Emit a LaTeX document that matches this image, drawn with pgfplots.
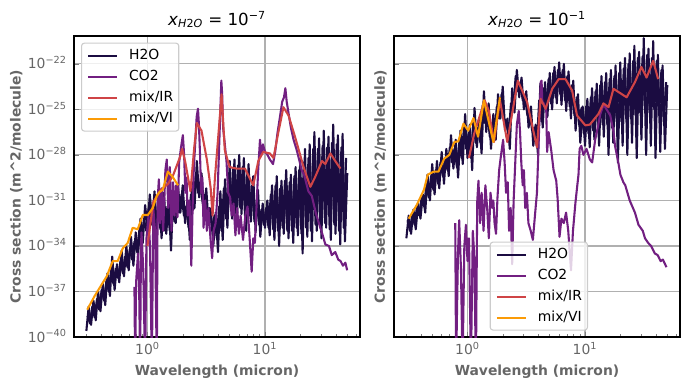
\documentclass[border=0pt]{standalone}
\usepackage{fontspec}
\setmainfont{DejaVu Sans}
\usepackage{pgfplots}
\pgfplotsset{compat=1.18}
\definecolor{cH}{HTML}{1B0C41}
\definecolor{cC}{HTML}{721F81}
\definecolor{cIR}{HTML}{CF4446}
\definecolor{cVI}{HTML}{FB9B06}
\definecolor{tgray}{HTML}{666666}
\definecolor{gridgray}{HTML}{B0B0B0}
\definecolor{leggray}{HTML}{CCCCCC}
\newcommand{\legtxt}[1]{\hspace{7.9pt}#1}
\begin{document}
\begin{tikzpicture}
% ---------------- left panel ----------------
\begin{axis}[
    scale only axis, width=205.92pt, height=216.72pt,
    at={(0pt,0pt)}, anchor=south west,
    xmode=log, ymode=log,
    xmin=0.237, xmax=64.3, ymin=1e-40, ymax=6.9e-21,
    xtick={1,10}, xticklabels={10\textsuperscript{0},10\textsuperscript{1}},
    minor xtick={0.3,0.4,0.5,0.6,0.7,0.8,0.9,2,3,4,5,6,7,8,9,20,30,40,50,60},
    ytick={1e-40,1e-37,1e-34,1e-31,1e-28,1e-25,1e-22},
    yticklabels={10\textsuperscript{−40},10\textsuperscript{−37},10\textsuperscript{−34},10\textsuperscript{−31},10\textsuperscript{−28},10\textsuperscript{−25},10\textsuperscript{−22}},
    tick align=inside, xtick pos=left, ytick pos=left,
    major tick length=3.5pt, minor tick length=2pt,
    grid=major, major grid style={color=gridgray, line width=0.8pt},
    axis line style={line width=0.8pt},
    tick label style={font=\fontsize{10}{12}\selectfont, text=tgray},
    yticklabel style={anchor=base east, inner sep=0pt, xshift=-5pt, yshift=-3.6pt},
    xticklabel style={anchor=north, inner sep=0pt, yshift=-3.5pt},
    label style={font=\bfseries\fontsize{10}{12}\selectfont, text=tgray},
    xlabel={Wavelength (micron)},
    ylabel={Cross section (m\textasciicircum 2/molecule)},
    xlabel style={at={(axis description cs:0.5,0)}, anchor=base, yshift=-27.7pt},
    ylabel style={at={(axis description cs:0,0.5)}, anchor=base, yshift=38.4pt},
    title style={at={(axis description cs:0.5,1)}, anchor=south, inner sep=0pt, yshift=-0.5pt, font=\fontsize{12}{14}\selectfont},
    title={\textit{x}\textsubscript{\textit{H}2\textit{O}} = 10\textsuperscript{−7}},
    legend cell align=left,
    legend image code/.code={\draw[#1,line width=1.5pt] (0pt,0pt) -- (20.9pt,0pt);},
    legend style={at={(0.0245,0.978)}, anchor=north west, draw=leggray, line width=0.8pt, rounded corners=2pt, fill=white,
      fill opacity=0.8, text opacity=1, font=\fontsize{10}{12}\selectfont,
      inner xsep=4pt, inner ysep=4pt, row sep=5.1pt,
      nodes={inner sep=0pt, text height=7.6pt, text depth=2.4pt}},
  ]
\addplot[cH, line width=1.5pt, line join=round] coordinates {
(0.302,2.5e-40) (0.316,1e-38) (0.331,6.3e-40) (0.347,2.5e-38) (0.363,1.26e-39) (0.380,1e-37) (0.398,5e-39) (0.417,3.2e-37) (0.437,1.26e-38) (0.457,1.58e-36) (0.479,5e-38) (0.501,2e-35) (0.525,1.26e-37) (0.550,6.3e-36) (0.575,4e-37) (0.603,5e-35) (0.631,1e-36) (0.661,1e-34) (0.692,2.5e-36) (0.724,4e-34) (0.759,5e-36) (0.794,7.9e-34) (0.832,2.5e-35) (0.871,6.3e-33) (0.912,1.58e-34) (0.955,5e-32) (1.0,1.58e-33) (1.047,2.5e-31) (1.096,4e-33) (1.148,4e-31) (1.202,1.26e-33) (1.259,2e-31) (1.318,3.2e-34) (1.380,3.2e-31) (1.445,6.3e-34) (1.514,1.26e-31) (1.585,5e-35) (1.660,3.2e-31) (1.738,3.2e-33) (1.820,7.9e-31) (1.905,1.58e-32) (1.995,1e-30) (2.089,3.2e-33) (2.188,1e-31) (2.291,2.5e-34) (2.399,1.58e-30) (2.512,3.2e-32) (2.630,4e-29) (2.754,1.58e-31) (2.884,6.3e-30) (3.020,3.2e-32) (3.162,6.3e-31) (3.311,2.5e-33) (3.467,2.5e-32) (3.631,1e-34) (3.802,1.58e-32) (3.981,4e-35) (4.169,4e-31) (4.365,2.5e-34) (4.571,2.5e-30) (4.786,1.58e-33) (5.012,4e-29) (5.248,6.3e-33) (5.495,5e-29) (5.754,2.5e-33) (6.026,1e-28) (6.310,1.26e-32) (6.607,6.3e-29) (6.918,1e-33) (7.244,2.5e-29) (7.586,4e-33) (7.943,4e-30) (8.318,7.9e-34) (8.710,5e-31) (9.120,4e-34) (9.550,6.3e-32) (10.0,1.58e-33) (10.47,1e-31) (10.96,5e-34) (11.48,1e-30) (12.02,2.5e-34) (12.59,4e-30) (13.18,1e-34) (13.80,2e-30) (14.45,6.3e-34) (15.14,1e-29) (15.85,3.2e-34) (16.60,5e-30) (17.38,1.58e-34) (18.20,1.58e-29) (19.05,5e-34) (19.95,5e-29) (20.89,3.2e-35) (21.88,2.5e-28) (22.91,4e-34) (23.99,5e-28) (25.12,2e-34) (26.30,3.2e-27) (27.54,1e-33) (28.84,1.26e-27) (30.20,3.2e-34) (31.62,4e-27) (33.11,1.58e-33) (34.67,1.58e-27) (36.31,2.5e-34) (38.02,1e-26) (39.81,6.3e-34) (41.69,2e-27) (43.65,1.26e-34) (45.71,2.5e-27) (47.86,2e-34) (50.12,6.3e-30)
};
\addlegendentry{\legtxt{H2O}}
\addplot[cH, line width=1.5pt, line join=round, forget plot] coordinates {
(0.309,2.5e-39) (0.324,7.9e-40) (0.339,1e-38) (0.355,2e-39) (0.372,3.2e-38) (0.389,6.3e-39) (0.407,1.26e-37) (0.427,2.5e-38) (0.447,5e-37) (0.468,1e-37) (0.490,2.5e-36) (0.513,3.2e-37) (0.537,3.2e-36) (0.562,7.9e-37) (0.589,1e-35) (0.617,1.58e-36) (0.646,2e-35) (0.676,4e-36) (0.708,6.3e-35) (0.741,1.26e-35) (0.776,2e-34) (0.813,4e-35) (0.851,1e-33) (0.891,2.5e-34) (0.933,6.3e-33) (0.977,1e-33) (1.023,3.2e-32) (1.072,2.5e-33) (1.122,6.3e-32) (1.175,1.58e-33) (1.230,5e-32) (1.288,1.26e-33) (1.349,6.3e-32) (1.413,1e-33) (1.479,4e-32) (1.549,1e-33) (1.622,6.3e-32) (1.698,4e-33) (1.778,1.58e-31) (1.862,1.58e-32) (1.950,2.5e-31) (2.042,1e-32) (2.138,4e-32) (2.239,1.58e-33) (2.344,2.5e-31) (2.455,2.5e-32) (2.570,4e-30) (2.692,3.2e-31) (2.818,1.58e-30) (2.951,6.3e-32) (3.090,2.5e-31) (3.236,1e-32) (3.388,3.2e-32) (3.548,1e-33) (3.715,1e-32) (3.890,3.2e-34) (4.074,4e-32) (4.266,1e-33) (4.467,6.3e-31) (4.677,6.3e-33) (4.898,6.3e-30) (5.129,2.5e-32) (5.370,1.26e-29) (5.623,1.58e-32) (5.888,2e-29) (6.166,3.2e-32) (6.457,1.58e-29) (6.761,1e-32) (7.079,6.3e-30) (7.413,1e-32) (7.762,1e-30) (8.128,4e-33) (8.511,1e-31) (8.913,2.5e-33) (9.333,2.5e-32) (9.772,2.5e-33) (10.23,3.2e-32) (10.72,1.58e-33) (11.22,2.5e-31) (11.75,1.26e-33) (12.30,1e-30) (12.88,1e-33) (13.49,6.3e-31) (14.13,1.58e-33) (14.79,2e-30) (15.49,1e-33) (16.22,1.58e-30) (16.98,1e-33) (17.78,4e-30) (18.62,1.58e-33) (19.50,1e-29) (20.42,6.3e-34) (21.38,3.2e-29) (22.39,1.58e-33) (23.44,6.3e-29) (24.55,1e-33) (25.70,2.5e-28) (26.92,2.5e-33) (28.18,2.5e-28) (29.51,1.58e-33) (30.90,4e-28) (32.36,3.2e-33) (33.88,3.2e-28) (35.48,1.26e-33) (37.15,6.3e-28) (38.90,2.5e-33) (40.74,5e-28) (42.66,1e-33) (44.67,3.2e-28) (46.77,1.58e-33) (48.98,6.3e-29)
};
\addplot[cC, line width=1.5pt, line join=round] coordinates {
(0.775,2e-37) (0.785,1e-42) (0.80,4e-37) (0.83,3.2e-35) (0.85,1e-37) (0.866,1e-42) (0.88,1e-34) (0.89,7.9e-34) (0.92,3.2e-36) (0.955,1e-42) (0.98,3.2e-34) (1.02,1e-32) (1.05,1e-34) (1.09,1e-42) (1.12,3.2e-32) (1.16,1e-33) (1.2,1e-42) (1.22,1e-31) (1.25,2.5e-30) (1.28,3.2e-33) (1.32,6.3e-31) (1.36,1e-33) (1.42,1e-29) (1.46,5e-29) (1.5,3.2e-32) (1.55,1.58e-29) (1.6,1e-33) (1.65,1.58e-30) (1.7,1e-32) (1.75,1e-30) (1.8,7.9e-33) (1.86,3.2e-29) (1.93,3.2e-28) (2.0,2e-27) (2.05,1e-28) (2.1,3.2e-31) (2.15,3.2e-30) (2.2,1e-32) (2.28,1e-31) (2.36,5e-36) (2.42,3.2e-32) (2.48,1.58e-29) (2.55,6.3e-28) (2.62,3.2e-26) (2.69,1.12e-25) (2.74,1e-26) (2.8,1e-28) (2.86,3.2e-31) (2.93,3.2e-30) (3.0,1.58e-33) (3.1,1e-31) (3.2,1e-33) (3.3,3.2e-32) (3.45,2e-34) (3.55,1.58e-35) (3.65,1e-33) (3.8,3.2e-33) (3.95,3.2e-31) (4.05,1e-28) (4.15,3.2e-26) (4.25,7.9e-24) (4.32,1e-24) (4.4,6.3e-27) (4.55,5e-28) (4.7,4e-29) (4.86,3.2e-31) (5.05,1.58e-31) (5.2,1e-32) (5.4,6.3e-32) (5.6,5e-34) (5.8,3.2e-32) (6.0,6.3e-34) (6.2,1e-32) (6.5,2.5e-34) (6.8,1e-32) (7.1,4e-32) (7.4,3.2e-34) (7.7,2e-36) (7.95,3.2e-34) (8.2,1.58e-34) (8.5,7.9e-32) (8.75,1e-29) (9.06,1e-27) (9.3,1e-28) (9.6,5e-28) (10.0,1.58e-28) (10.5,1e-28) (11.0,5e-29) (11.7,2.5e-29) (12.2,1.58e-28) (12.8,3.2e-27) (13.4,3.2e-26) (14.0,3.2e-25) (14.5,6.3e-25) (14.9,2.5e-24) (15.3,3.2e-25) (15.9,5e-26) (16.6,6.3e-27) (17.5,1e-27) (18.5,2.5e-28) (19.5,5e-29) (20.5,1e-29) (21.5,5e-30) (23.4,4e-31) (25.0,2e-31) (27.0,1.58e-32) (29.0,2.5e-33) (31.0,5e-34) (32.6,1.26e-34) (35.0,1e-34) (37.0,2.5e-35) (39.6,4e-35) (42.0,1.26e-35) (44.0,1e-35) (46.0,5e-36) (48.3,7.9e-36) (50.0,2.5e-36)
};
\addlegendentry{\legtxt{CO2}}
\addplot[cIR, line width=1.5pt, line join=round] coordinates {
(1.0,1e-34) (1.12,7.9e-32) (1.3,5e-31) (1.5,1.26e-30) (1.66,5e-30) (1.9,7.9e-29) (1.97,2.5e-28) (2.1,3.2e-29) (2.32,4e-31) (2.5,3.2e-28) (2.63,1.26e-26) (2.88,4e-27) (3.2,5e-29) (3.45,6.3e-31) (3.58,1e-32) (3.75,3.2e-30) (4.0,1.58e-27) (4.27,1e-24) (4.55,2e-28) (5.0,1.58e-29) (5.73,1.26e-29) (6.75,1.26e-29) (7.94,1e-30) (8.77,4e-29) (9.66,1.58e-28) (11.0,1.26e-28) (11.8,6.3e-29) (13.0,3.2e-27) (14.35,1.4e-25) (15.85,4e-26) (18.0,1.58e-27) (21.3,1.58e-29) (24.3,7.9e-31) (26.7,3.5e-30) (30.5,4e-29) (32.6,2.5e-29) (36.0,1.26e-28) (39.6,4e-29) (43.8,1.26e-29)
};
\addlegendentry{\legtxt{mix/IR}}
\addplot[cVI, line width=1.5pt, line join=round] coordinates {
(0.307,6.3e-39) (0.355,5e-38) (0.45,1e-36) (0.506,1e-35) (0.557,1e-35) (0.617,7.1e-35) (0.679,1.58e-34) (0.748,1.58e-33) (0.826,1.26e-33) (0.912,1.1e-32) (1.007,1.1e-32) (1.11,3.2e-32) (1.2,2e-31) (1.26,3.5e-31) (1.35,5e-31) (1.49,7.9e-30) (1.64,3.5e-30) (1.82,1e-30)
};
\addlegendentry{\legtxt{mix/VI}}
\end{axis}
% ---------------- right panel ----------------
\begin{axis}[
    scale only axis, width=205.92pt, height=216.72pt,
    at={(230.4pt,0pt)}, anchor=south west,
    xmode=log, ymode=log,
    xmin=0.237, xmax=64.3, ymin=1e-40, ymax=6.9e-21,
    xtick={1,10}, xticklabels={10\textsuperscript{0},10\textsuperscript{1}},
    minor xtick={0.3,0.4,0.5,0.6,0.7,0.8,0.9,2,3,4,5,6,7,8,9,20,30,40,50,60},
    ytick={1e-40,1e-37,1e-34,1e-31,1e-28,1e-25,1e-22},
    yticklabels={},
    tick align=inside, xtick pos=left, ytick pos=left,
    major tick length=3.5pt, minor tick length=2pt,
    grid=major, major grid style={color=gridgray, line width=0.8pt},
    axis line style={line width=0.8pt},
    tick label style={font=\fontsize{10}{12}\selectfont, text=tgray},
    xticklabel style={anchor=north, inner sep=0pt, yshift=-3.5pt},
    label style={font=\bfseries\fontsize{10}{12}\selectfont, text=tgray},
    xlabel={Wavelength (micron)},
    ylabel={Cross section (m\textasciicircum 2/molecule)},
    xlabel style={at={(axis description cs:0.5,0)}, anchor=base, yshift=-27.7pt},
    ylabel style={at={(axis description cs:0,0.5)}, anchor=base, yshift=6.5pt},
    title style={at={(axis description cs:0.5,1)}, anchor=south, inner sep=0pt, yshift=-0.5pt, font=\fontsize{12}{14}\selectfont},
    title={\textit{x}\textsubscript{\textit{H}2\textit{O}} = 10\textsuperscript{−1}},
    legend cell align=left,
    legend image code/.code={\draw[#1,line width=1.5pt] (0pt,0pt) -- (20.9pt,0pt);},
    legend style={at={(0.3345,0.317)}, anchor=north west, draw=leggray, line width=0.8pt, rounded corners=2pt, fill=white,
      fill opacity=0.8, text opacity=1, font=\fontsize{10}{12}\selectfont,
      inner xsep=4pt, inner ysep=4pt, row sep=5.1pt,
      nodes={inner sep=0pt, text height=7.6pt, text depth=2.4pt}},
  ]
\addplot[cH, line width=1.5pt, line join=round] coordinates {
(0.302,3.2e-34) (0.316,1e-32) (0.331,6.3e-34) (0.347,2.5e-32) (0.363,1.26e-33) (0.380,6.3e-32) (0.398,6.3e-33) (0.417,2.5e-31) (0.437,1.58e-32) (0.457,5e-30) (0.479,1e-31) (0.501,2.5e-29) (0.525,2.5e-31) (0.550,4e-29) (0.575,6.3e-31) (0.603,1.58e-28) (0.631,1.26e-30) (0.661,2.5e-28) (0.692,4e-30) (0.724,2e-27) (0.759,1.26e-29) (0.794,1e-27) (0.832,3.2e-30) (0.871,4e-27) (0.912,2.5e-29) (0.955,5e-26) (1.0,6.3e-29) (1.047,1e-26) (1.096,1e-29) (1.148,1.26e-25) (1.202,3.2e-28) (1.259,2.5e-26) (1.318,1.26e-28) (1.380,1.58e-24) (1.445,3.2e-27) (1.514,2.5e-25) (1.585,2.5e-28) (1.660,5e-26) (1.738,1e-27) (1.820,1e-24) (1.905,2.5e-26) (1.995,3.2e-24) (2.089,4e-27) (2.188,2.5e-26) (2.291,2.5e-28) (2.399,2.5e-24) (2.512,6.3e-26) (2.630,4e-23) (2.754,6.3e-25) (2.884,1.26e-23) (3.020,1e-25) (3.162,1.58e-24) (3.311,6.3e-27) (3.467,1.58e-25) (3.631,4e-28) (3.802,1e-26) (3.981,1e-28) (4.169,5e-24) (4.365,6.3e-27) (4.571,6.3e-24) (4.786,3.2e-26) (5.012,2.5e-23) (5.248,1e-25) (5.495,6.3e-23) (5.754,2.5e-25) (6.026,1.26e-22) (6.310,2e-25) (6.607,1e-22) (6.918,7.9e-26) (7.244,3.2e-23) (7.586,2.5e-26) (7.943,7.9e-24) (8.318,4e-27) (8.710,1e-24) (9.120,6.3e-28) (9.550,1.58e-25) (10.0,4e-28) (10.47,5e-25) (10.96,3.2e-28) (11.48,2.5e-24) (12.02,1e-27) (12.59,5e-24) (13.18,4e-28) (13.80,1.58e-23) (14.45,1.58e-27) (15.14,2.5e-23) (15.85,1e-28) (16.60,4e-23) (17.38,6.3e-28) (18.20,7.9e-23) (19.05,3.2e-29) (19.95,1.26e-22) (20.89,4e-28) (21.88,2.5e-22) (22.91,1e-28) (23.99,5e-22) (25.12,6.3e-28) (26.30,1.58e-21) (27.54,6.3e-29) (28.84,6.3e-22) (30.20,1e-27) (31.62,5e-21) (33.11,1e-28) (34.67,1e-21) (36.31,4e-28) (38.02,3.2e-21) (39.81,6.3e-29) (41.69,4e-22) (43.65,1.58e-28) (45.71,7.9e-23) (47.86,2.5e-28) (50.12,4e-24)
};
\addlegendentry{\legtxt{H2O}}
\addplot[cH, line width=1.5pt, line join=round, forget plot] coordinates {
(0.309,5e-33) (0.324,1e-33) (0.339,1.26e-32) (0.355,2.5e-33) (0.372,4e-32) (0.389,1e-32) (0.407,1.58e-31) (0.427,4e-32) (0.447,1e-30) (0.468,1.58e-31) (0.490,4e-30) (0.513,5e-31) (0.537,1e-29) (0.562,1.26e-30) (0.589,3.2e-29) (0.617,4e-30) (0.646,6.3e-29) (0.676,1e-29) (0.708,3.2e-28) (0.741,3.2e-29) (0.776,2.5e-28) (0.813,1.58e-29) (0.851,6.3e-28) (0.891,6.3e-29) (0.933,6.3e-27) (0.977,2.5e-28) (1.023,2.5e-27) (1.072,6.3e-29) (1.122,1.58e-26) (1.175,6.3e-28) (1.230,6.3e-27) (1.288,6.3e-28) (1.349,2e-25) (1.413,1.26e-26) (1.479,6.3e-26) (1.549,1.58e-27) (1.622,1e-26) (1.698,1.58e-27) (1.778,1.58e-25) (1.862,2.5e-26) (1.950,1e-24) (2.042,2.5e-26) (2.138,1.58e-26) (2.239,1.58e-27) (2.344,2.5e-25) (2.455,1e-25) (2.570,1.58e-23) (2.692,1.58e-24) (2.818,6.3e-24) (2.951,4e-25) (3.090,6.3e-25) (3.236,4e-26) (3.388,6.3e-26) (3.548,4e-27) (3.715,6.3e-27) (3.890,4e-28) (4.074,4e-25) (4.266,1.58e-26) (4.467,2.5e-24) (4.677,1e-25) (4.898,1e-23) (5.129,2.5e-25) (5.370,2.5e-23) (5.623,6.3e-25) (5.888,4e-23) (6.166,1e-24) (6.457,4e-23) (6.761,4e-25) (7.079,1.58e-23) (7.413,1.58e-25) (7.762,4e-24) (8.128,4e-26) (8.511,6.3e-25) (8.913,1e-26) (9.333,1.26e-25) (9.772,2.5e-27) (10.23,1.58e-25) (10.72,2.5e-27) (11.22,6.3e-25) (11.75,4e-27) (12.30,1.58e-24) (12.88,6.3e-27) (13.49,4e-24) (14.13,1e-26) (14.79,6.3e-24) (15.49,1e-26) (16.22,1e-23) (16.98,6.3e-27) (17.78,1.58e-23) (18.62,1.58e-26) (19.50,2.5e-23) (20.42,1.58e-26) (21.38,5e-23) (22.39,2.5e-26) (23.44,1e-22) (24.55,2.5e-26) (25.70,1.58e-22) (26.92,4e-26) (28.18,2.5e-22) (29.51,6.3e-26) (30.90,3.2e-22) (32.36,1e-25) (33.88,4e-22) (35.48,6.3e-26) (37.15,2.5e-22) (38.90,1e-25) (40.74,1.58e-22) (42.66,4e-26) (44.67,4e-23) (46.77,1.58e-26) (48.98,6.3e-24)
};
\addplot[cC, line width=1.5pt, line join=round] coordinates {
(0.787,3.2e-33) (0.80,1e-42) (0.83,3.2e-35) (0.85,5e-33) (0.88,3.2e-36) (0.908,1e-42) (0.94,1e-34) (0.97,2.5e-33) (1.0,1e-35) (1.03,3.2e-34) (1.07,1e-42) (1.11,1e-33) (1.14,3.2e-35) (1.18,1e-42) (1.21,7.9e-32) (1.24,2e-30) (1.28,3.2e-33) (1.32,3.2e-31) (1.37,1e-33) (1.42,1e-30) (1.47,3.2e-32) (1.52,3.2e-34) (1.57,3.2e-31) (1.62,3.2e-32) (1.66,1e-31) (1.7,3.2e-33) (1.75,6.3e-34) (1.8,1.58e-31) (1.86,1e-29) (1.93,1e-28) (2.01,1e-27) (2.07,3.2e-29) (2.13,3.2e-31) (2.2,1.58e-30) (2.26,1e-33) (2.33,3.2e-32) (2.4,6.3e-36) (2.47,1e-31) (2.55,3.2e-29) (2.63,1e-26) (2.73,7.9e-26) (2.8,3.2e-27) (2.87,3.2e-29) (2.95,1e-30) (3.02,1e-29) (3.1,3.2e-32) (3.2,3.2e-31) (3.3,3.2e-33) (3.45,1e-33) (3.6,2.5e-34) (3.75,1e-32) (3.9,3.2e-31) (4.0,1e-28) (4.1,3.2e-26) (4.2,6.3e-24) (4.27,7.9e-24) (4.33,3.2e-25) (4.45,2.5e-25) (4.68,7.9e-26) (4.76,1.58e-28) (4.9,3.2e-27) (5.16,2e-28) (5.4,1e-29) (5.69,2e-30) (5.85,1.26e-31) (6.07,4e-34) (6.3,6.3e-33) (6.6,3.2e-33) (6.9,1.58e-32) (7.2,1e-33) (7.6,2.5e-36) (7.9,1e-33) (8.3,7.9e-32) (8.6,1e-30) (8.8,5e-30) (9.0,2.5e-28) (9.3,4e-28) (9.7,1e-28) (10.3,2.5e-28) (11.0,5e-29) (11.5,3.2e-29) (12.2,1e-27) (12.6,3.2e-27) (13.5,5e-26) (14.35,2e-25) (15.0,1.26e-25) (16.4,4e-26) (17.5,3.2e-27) (18.0,4e-28) (19.2,3.2e-29) (20.0,5e-30) (21.2,1.58e-30) (22.0,1e-30) (24.0,1e-31) (26.6,1.58e-32) (28.5,2.5e-33) (31.0,1e-33) (32.4,3.2e-34) (34.5,1.58e-34) (36.5,1e-34) (39.3,3.2e-35) (41.5,2.5e-35) (44.0,1e-35) (46.0,1.26e-35) (48.0,6.3e-36) (49.3,4e-36)
};
\addlegendentry{\legtxt{CO2}}
\addplot[cIR, line width=1.5pt, line join=round] coordinates {
(1.03,6.3e-29) (1.14,2.5e-27) (1.40,4e-25) (1.52,7.9e-26) (1.68,7.1e-28) (1.89,4e-25) (2.18,7.1e-28) (2.68,7.9e-24) (3.21,3.2e-25) (3.9,3.2e-28) (4.19,5e-25) (4.62,1.1e-25) (5.26,2.3e-24) (5.98,1e-23) (6.82,1e-23) (7.76,1.8e-24) (8.55,4e-26) (10.07,8.9e-27) (11.0,1e-26) (13.0,5e-26) (14.35,2.5e-25) (15.85,1.4e-25) (17.46,2.3e-24) (22.6,6.3e-25) (26.6,6.3e-24) (30.2,6.3e-23) (33.4,1.26e-23) (38.0,1.58e-22) (41.9,1e-23)
};
\addlegendentry{\legtxt{mix/IR}}
\addplot[cVI, line width=1.5pt, line join=round] coordinates {
(0.316,6.3e-33) (0.37,5e-32) (0.426,5e-31) (0.459,5e-30) (0.516,7.9e-30) (0.566,7.9e-30) (0.635,5.75e-29) (0.70,1e-28) (0.773,7.1e-28) (0.836,7.9e-28) (0.925,1.15e-26) (1.014,4e-27) (1.125,2.7e-26) (1.23,1.58e-27) (1.38,4e-25) (1.66,7.1e-28) (1.89,6.3e-25)
};
\addlegendentry{\legtxt{mix/VI}}
\end{axis}
\pgfresetboundingbox
\path[use as bounding box] (-53.28pt,-38.16pt) rectangle (442.8pt,242.64pt);
\end{tikzpicture}
\end{document}
